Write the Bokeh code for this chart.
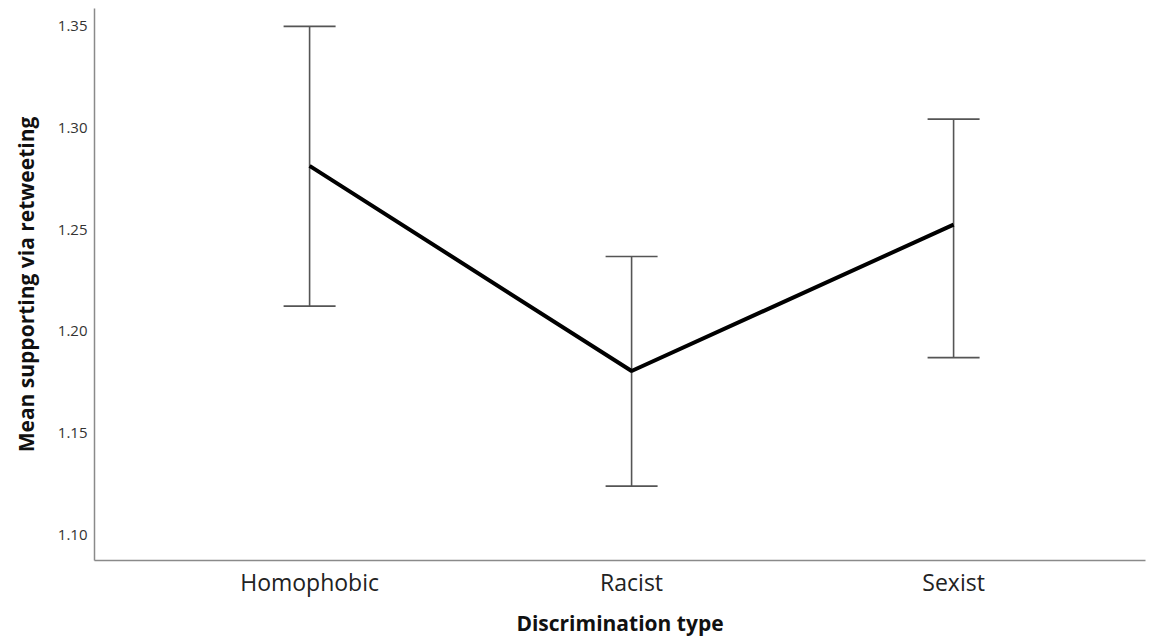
from bokeh.plotting import figure
from bokeh.models import ColumnDataSource, Whisker, TeeHead, FixedTicker, PrintfTickFormatter, Range1d
from bokeh.embed import file_html
from bokeh.resources import INLINE

categories = ["Homophobic", "Racist", "Sexist"]
means = [1.2814, 1.1805, 1.2525]
ci_upper = [1.3500, 1.2368, 1.3044]
ci_lower = [1.2124, 1.1239, 1.1871]
y_ticks = [1.10, 1.15, 1.20, 1.25, 1.30, 1.35]

xs = list(range(len(categories)))
src = ColumnDataSource(dict(x=xs, mean=means, upper=ci_upper, lower=ci_lower))

p = figure(width=1150, height=639, output_backend="svg", toolbar_location=None,
           x_range=Range1d(-0.668, 2.596), y_range=Range1d(1.0873, 1.3588),
           min_border_left=94, min_border_right=5, min_border_top=8, min_border_bottom=77)
p.outline_line_color = None
p.grid.visible = False
p.background_fill_color = "white"
p.border_fill_color = "white"

wh = Whisker(source=src, base="x", upper="upper", lower="lower",
             line_color="#555555", line_width=1.6,
             upper_head=TeeHead(size=52, line_color="#555555", line_width=1.6),
             lower_head=TeeHead(size=52, line_color="#555555", line_width=1.6))
p.add_layout(wh)
p.line("x", "mean", source=src, line_color="black", line_width=4)

for ax in (p.xaxis[0], p.yaxis[0]):
    ax.axis_line_color = "#8a8a8a"
    ax.axis_line_width = 1.5
    ax.major_tick_line_color = None
    ax.minor_tick_line_color = None
    ax.major_tick_out = 0
    ax.major_tick_in = 0

p.xaxis.ticker = FixedTicker(ticks=xs)
p.xaxis.major_label_overrides = {i: c for i, c in zip(xs, categories)}
p.xaxis.major_label_text_font = "Open Sans"
p.xaxis.major_label_text_font_size = "23px"
p.xaxis.major_label_text_color = "#222222"
p.xaxis.major_label_standoff = 5
p.xaxis.axis_label = "Discrimination type"
p.xaxis.axis_label_text_font = "Open Sans"
p.xaxis.axis_label_text_font_style = "bold"
p.xaxis.axis_label_text_font_size = "21px"
p.xaxis.axis_label_text_color = "#111111"
p.xaxis.axis_label_standoff = 8

p.yaxis.ticker = FixedTicker(ticks=y_ticks)
p.yaxis.formatter = PrintfTickFormatter(format="%.2f")
p.yaxis.major_label_text_font = "Open Sans"
p.yaxis.major_label_text_font_size = "15px"
p.yaxis.major_label_text_color = "#333333"
p.yaxis.major_label_standoff = 7
p.yaxis.axis_label = "Mean supporting via retweeting"
p.yaxis.axis_label_text_font = "Open Sans"
p.yaxis.axis_label_text_font_style = "bold"
p.yaxis.axis_label_text_font_size = "21px"
p.yaxis.axis_label_text_color = "#111111"
p.yaxis.axis_label_standoff = 15

open("out.html", "w").write(file_html(p, INLINE))
